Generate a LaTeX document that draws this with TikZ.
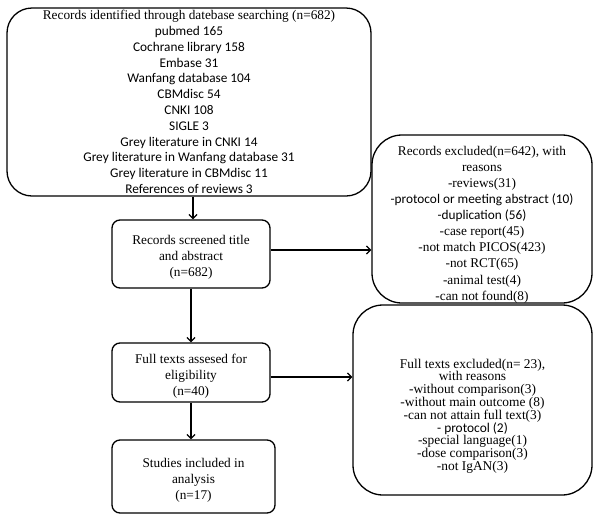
\documentclass[tikz,border=0pt]{standalone}
\usepackage{fontspec}
\setmainfont{Liberation Serif}
\newfontfamily\calibri{Carlito}
\usetikzlibrary{arrows.meta}

\tikzset{
  box/.style={draw, line width=1.3pt, inner sep=0pt},
  txt/.style={align=center, inner sep=0pt, font=\fontsize{13.3}{15.8}\selectfont},
  bigbox/.style={box, txt, rounded corners=25pt, minimum width=364pt, minimum height=188pt},
  stepbox/.style={box, rounded corners=8pt, minimum width=158pt},
  sidebox/.style={box, rounded corners=30pt},
  arr/.style={line width=1.3pt, -{Straight Barb[length=4pt,width=8pt,line width=1.3pt]}}
}

\begin{document}
\begin{tikzpicture}[x=1pt, y=1pt]

    \useasboundingbox (0,0) rectangle (600,-520);

    % Define nodes
    \node[bigbox]                                       (search) at (189,-102)
      {Records identified through datebase searching (n=682)\\
       \calibri pubmed 165\\ \calibri Cochrane library 158\\ \calibri Embase 31\\
       \calibri Wanfang database 104\\ \calibri CBMdisc 54\\ \calibri CNKI 108\\
       \calibri SIGLE 3\\ \calibri Grey literature in CNKI 14\\
       \calibri Grey literature in Wanfang database 31\\
       \calibri Grey literature in CBMdisc 11\\ \calibri References of reviews 3};

    \node[stepbox, minimum height=68pt]                 (screen) at (191,-254) {};
    \node[txt]                    (screentext) at ([yshift=-3.5pt]screen.center)
      {Records screened title\\ and abstract\\ (n=682)};

    \node[stepbox, minimum height=59pt]                 (full) at (191,-372.5) {};
    \node[txt]                    (fulltext) at ([yshift=-3.5pt]full.center)
      {Full texts assesed for\\ eligibility\\ (n=40)};

    \node[stepbox, minimum width=163pt, minimum height=73pt] (incl) at (193.5,-476.5) {};
    \node[txt]                    (incltext) at ([yshift=-3.5pt]incl.center)
      {Studies included in\\ analysis\\ (n=17)};

    \node[sidebox, minimum width=220pt, minimum height=168pt] (excl) at (482,-219) {};
    \node[txt, font=\fontsize{13.3}{16.1}\selectfont] (excltext) at ([yshift=-5.5pt]excl.center)
      {Records excluded(n=642), with\\ reasons\\ -reviews(31)\\
       \calibri -protocol or meeting abstract (10)\\ \calibri -duplication (56)\\
       -case report(45)\\ -not match PICOS(423)\\ -not RCT(65)\\
       -animal test(4)\\ -can not found(8)};

    \node[sidebox, minimum width=239pt, minimum height=190pt] (fullexcl) at (472.5,-400) {};
    \node[txt, font=\fontsize{13.4}{12.8}\selectfont] (fullexcltext) at ([yshift=-16pt]fullexcl.center)
      {Full texts excluded(n= 23),\\ with reasons\\ -without comparison(3)\\
       -without main outcome (8)\\ -can not attain full text(3)\\
       \calibri - protocol (2)\\ -special language(1)\\ -dose comparison(3)\\
       -not IgAN(3)};

    % Connect the nodes
    \draw[arr] ([xshift=4pt]search.south) -- ([xshift=4pt]search.south |- screen.north);
    \draw[arr] (screen) -- (full);
    \draw[arr] (full) -- (full.south |- incl.north);
    \draw[arr] ([yshift=4pt]screen.east) -- ([yshift=4pt]screen.east -| excl.west);
    \draw[arr] ([yshift=-4.5pt]full.east) -- ([yshift=-4.5pt]full.east -| fullexcl.west);

\end{tikzpicture}
\end{document}
